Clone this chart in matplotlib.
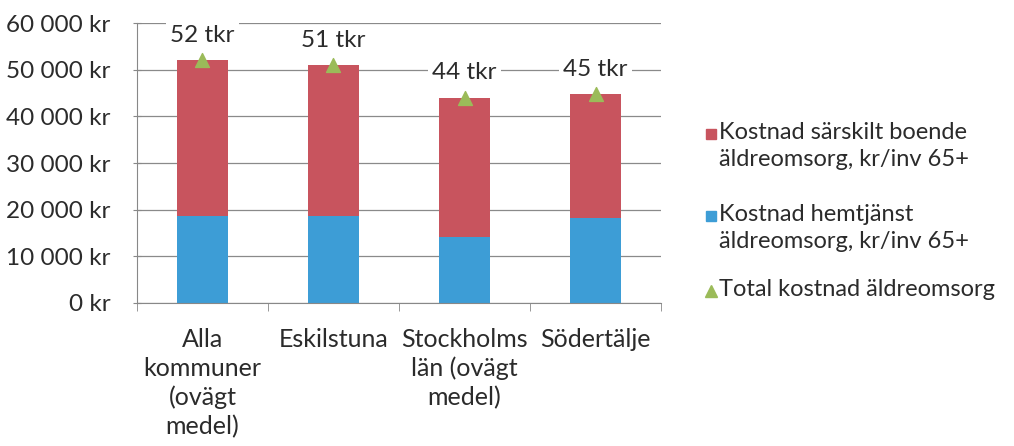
import matplotlib
matplotlib.use("Agg")
import matplotlib.pyplot as plt
from matplotlib.lines import Line2D
from matplotlib.ticker import FuncFormatter

plt.rcParams['font.family'] = ['Lato', 'DejaVu Sans']

categories = ["Alla\nkommuner\n(ovägt\nmedel)", "Eskilstuna", "Stockholms\nlän (ovägt\nmedel)", "Södertälje"]
hemtjanst = [18600, 18600, 14100, 18200]
sarskilt_boende = [33400, 32400, 29900, 26600]
total = [52000, 51000, 44000, 44800]
total_labels = ["52 tkr", "51 tkr", "44 tkr", "45 tkr"]

legend_labels = ["Kostnad särskilt boende\näldreomsorg, kr/inv 65+",
                 "Kostnad hemtjänst\näldreomsorg, kr/inv 65+",
                 "Total kostnad äldreomsorg"]

red = "#C8545E"
blue = "#3D9DD6"
green = "#9BBB59"
text_col = "#2b2b2b"

fig = plt.figure(figsize=(10.14, 4.46), dpi=100)
ax = fig.add_axes([0.135, 0.321, 0.517, 0.627])

x = range(len(categories))
ax.bar(x, hemtjanst, width=0.39, color=blue, zorder=2)
ax.bar(x, sarskilt_boende, width=0.39, bottom=hemtjanst, color=red, zorder=2)
ax.scatter(x, total, marker="^", s=100, color=green, zorder=3)

for xi, yi, lab in zip(x, total, total_labels):
    ax.annotate(lab, (xi, yi), xytext=(0, 18), textcoords="offset points",
                ha="center", va="center", fontsize=17.5, color=text_col,
                bbox=dict(facecolor="white", edgecolor="none", pad=3), zorder=4)

ax.set_xlim(-0.5, 3.5)
ax.set_ylim(0, 60000)
ax.set_yticks(range(0, 60001, 10000))
ax.yaxis.set_major_formatter(FuncFormatter(lambda v, p: f"{int(v):,} kr".replace(",", " ")))
ax.set_xticks(list(x))
ax.set_xticklabels(categories, fontsize=18, color=text_col, linespacing=1.3)
ax.tick_params(axis="x", length=0, pad=18)
ax.set_xticks([-0.5, 0.5, 1.5, 2.5, 3.5], minor=True)
ax.tick_params(axis="x", which="minor", length=6, direction="out", color="#888888")
ax.tick_params(axis="y", labelsize=17.5, labelcolor=text_col, length=6, direction="inout",
               color="#888888", pad=16)

ax.grid(axis="y", color="#8a8a8a", linewidth=0.9, zorder=0)
for s in ["top", "right"]:
    ax.spines[s].set_visible(False)
ax.spines["left"].set_color("#888888")
ax.spines["bottom"].set_color("#888888")

# legend drawn by hand so the wrapped labels get proper line spacing
legend_markers = [("s", red, 7), ("s", blue, 7), ("^", green, 8)]
legend_rows = [135, 217, 292]  # pixel row of each entry's first line
H = 446
for (mk, col, ms), lab, row in zip(legend_markers, legend_labels, legend_rows):
    fig.add_artist(Line2D([0.701], [1 - (row - 1) / H], marker=mk, color=col, markersize=ms,
                          linestyle="none", transform=fig.transFigure))
    fig.text(0.709, 1 - (row - 13) / H, lab, fontsize=17, color=text_col, ha="left", va="top",
             linespacing=1.35, transform=fig.transFigure)

fig.savefig("out.png", dpi=100)
